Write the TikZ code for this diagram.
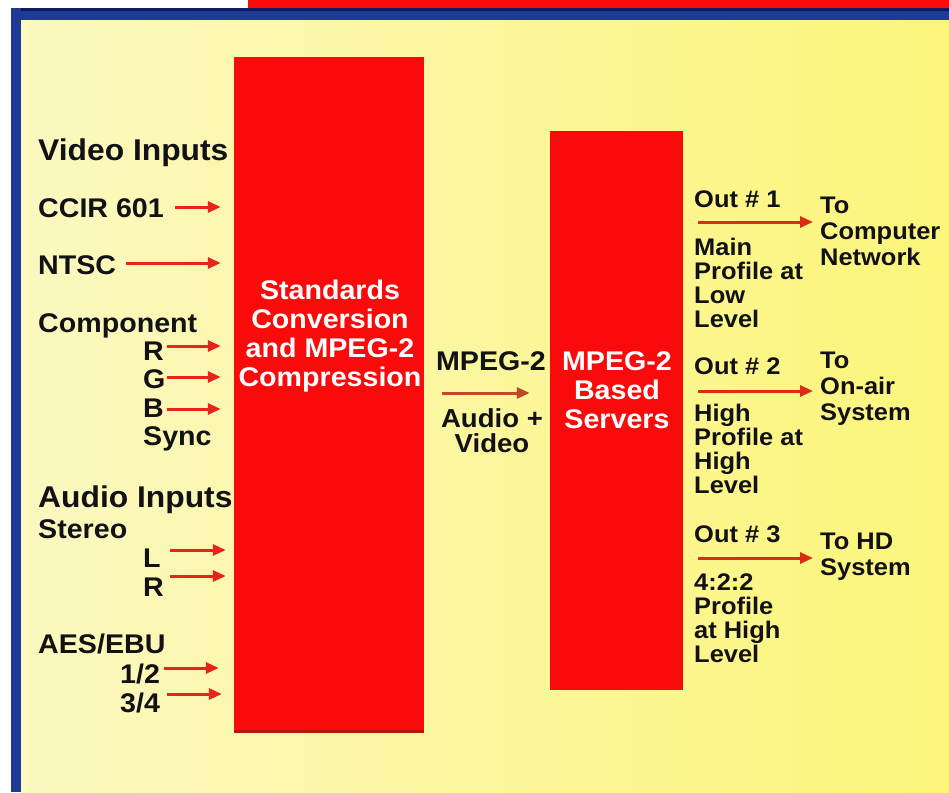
\documentclass[tikz,border=0pt]{standalone}
\usepackage{fontspec}
\setmainfont{Liberation Sans}[FakeStretch=1.06]
\usetikzlibrary{arrows.meta, positioning}

\definecolor{paleyellow}{RGB}{251,248,192}
\definecolor{deepyellow}{RGB}{252,245,122}
\definecolor{boxred}{RGB}{250,10,10}
\definecolor{edgered}{RGB}{185,20,20}
\definecolor{frameblue}{RGB}{28,58,150}
\definecolor{navy}{RGB}{15,25,95}
\definecolor{inred}{RGB}{232,36,24}
\definecolor{midred}{RGB}{192,74,40}
\definecolor{outred}{RGB}{220,44,24}
\definecolor{ink}{RGB}{18,18,22}

\begin{document}
\begin{tikzpicture}[
  x=1pt, y=-1pt,
  block/.style     = {rectangle, fill=boxred, inner sep=0pt},
  blocktext/.style = {anchor=base, align=center, text=white,
                      font=\fontsize{27}{29}\selectfont\bfseries},
  heading/.style   = {anchor=base west, inner sep=0pt, text=ink,
                      font=\fontsize{30}{30}\selectfont\bfseries},
  inlbl/.style     = {anchor=base west, inner sep=0pt, text=ink,
                      font=\fontsize{27}{27}\selectfont\bfseries},
  outlbl/.style    = {anchor=base west, inner sep=0pt, align=left, text=ink,
                      font=\fontsize{24}{24}\selectfont\bfseries},
  destlbl/.style   = {outlbl, font=\fontsize{24}{26}\selectfont\bfseries},
  arrow/.style     = {-{Triangle[length=13pt, width=11pt]}, line width=3pt}
]

% ── Page and frame ───────────────────────────────────────────────────────────
\useasboundingbox (0,0) rectangle (949,792);
\fill[white] (0,0) rectangle (949,792);
\fill[boxred] (248,0) rectangle (949,9);
\fill[frameblue] (11,8) rectangle (949,21);
\fill[navy] (11,8) rectangle (949,11);
\fill[frameblue] (11,8) rectangle (21,792);
\shade[left color=paleyellow, right color=deepyellow] (21,21) rectangle (949,792);

% ── Processing blocks (multi-line texts sit on their last baseline) ─────────
\node[block, minimum width=190pt, minimum height=676pt] (conv) at (329,395) {};
\fill[edgered] ([yshift=3pt]conv.south west) rectangle (conv.south east);
\node[blocktext] (convtxt) at (330,386)
  {Standards\\Conversion\\and MPEG-2\\Compression};

\node[block, minimum width=133pt, minimum height=559pt] (srv) at (616.5,410.5) {};
\node[blocktext] (srvtxt) at (617,428) {MPEG-2\\Based\\Servers};

% ── Video inputs (left side) ─────────────────────────────────────────────────
\node[heading] (vidhead) at (38,160) {Video Inputs};
\node[inlbl] (ccir)  at (38,217)  {CCIR 601};
\node[inlbl] (ntsc)  at (38,274)  {NTSC};
\node[inlbl] (comp)  at (38,332)  {Component};
\node[inlbl] (compR) at (143,360) {R};
\node[inlbl] (compG) at (143,388) {G};
\node[inlbl] (compB) at (143,417) {B};
\node[inlbl] (sync)  at (143,445) {Sync};

\coordinate (ccirA)  at (175,207);
\coordinate (ntscA)  at (126,263);
\coordinate (compRA) at (167,346);
\coordinate (compGA) at (167,377);
\coordinate (compBA) at (167,409);
\draw[arrow, inred, shorten >=13pt] (ccirA)  -- (ccirA -| conv.west);
\draw[arrow, inred, shorten >=13pt] (ntscA)  -- (ntscA -| conv.west);
\draw[arrow, inred, shorten >=13pt] (compRA) -- (compRA -| conv.west);
\draw[arrow, inred, shorten >=13pt] (compGA) -- (compGA -| conv.west);
\draw[arrow, inred, shorten >=13pt] (compBA) -- (compBA -| conv.west);

% ── Audio inputs (left side) ─────────────────────────────────────────────────
\node[heading] (audhead) at (38,507) {Audio Inputs};
\node[inlbl] (stereo) at (38,538)  {Stereo};
\node[inlbl] (stL)    at (143,567) {L};
\node[inlbl] (stR)    at (143,596) {R};
\node[inlbl] (aes)    at (38,653)  {AES/EBU};
\node[inlbl] (aes12)  at (120,683) {1/2};
\node[inlbl] (aes34)  at (120,712) {3/4};

\coordinate (stLA)   at (170,550);
\coordinate (stRA)   at (170,576);
\coordinate (aes12A) at (164,668);
\coordinate (aes34A) at (167,694);
\draw[arrow, inred, shorten >=8pt]  (stLA)   -- (stLA -| conv.west);
\draw[arrow, inred, shorten >=8pt]  (stRA)   -- (stRA -| conv.west);
\draw[arrow, inred, shorten >=15pt] (aes12A) -- (aes12A -| conv.west);
\draw[arrow, inred, shorten >=12pt] (aes34A) -- (aes34A -| conv.west);

% ── Link between blocks ──────────────────────────────────────────────────────
\node[blocktext, text=ink] (mpeg) at (491,370) {MPEG-2};
\node[blocktext, text=ink, font=\fontsize{26}{25}\selectfont\bfseries]
  (avtxt) at (492,452) {Audio +\\Video};
\coordinate (midA) at (0,393);
\draw[arrow, midred, shorten <=18pt, shorten >=20pt]
  (midA -| conv.east) -- (midA -| srv.west);

% ── Outputs (right side) ─────────────────────────────────────────────────────
\node[outlbl] (out1)  at (694,207) {Out \# 1};
\node[outlbl] (prof1) at (694,327) {Main\\Profile at\\Low\\Level};
\node[destlbl] (dest1) at (820,265) {To\\Computer\\Network};

\node[outlbl] (out2)  at (694,374) {Out \# 2};
\node[outlbl] (prof2) at (694,493) {High\\Profile at\\High\\Level};
\node[destlbl] (dest2) at (820,420) {To\\On-air\\System};

\node[outlbl] (out3)  at (694,542) {Out \# 3};
\node[outlbl] (prof3) at (694,662) {4:2:2\\Profile\\at High\\Level};
\node[destlbl] (dest3) at (820,575) {To HD\\System};

\coordinate (out1A) at (0,222);
\coordinate (out2A) at (0,391);
\coordinate (out3A) at (0,558);
\draw[arrow, outred, shorten <=15pt, shorten >=7pt]
  (out1A -| srv.east) -- (out1A -| dest1.west);
\draw[arrow, outred, shorten <=15pt, shorten >=7pt]
  (out2A -| srv.east) -- (out2A -| dest2.west);
\draw[arrow, outred, shorten <=15pt, shorten >=7pt]
  (out3A -| srv.east) -- (out3A -| dest3.west);

\end{tikzpicture}
\end{document}
